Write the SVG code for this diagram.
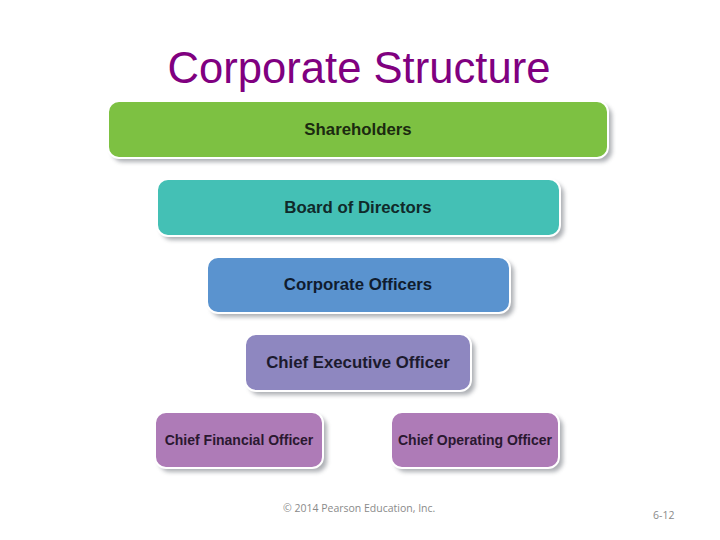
<svg xmlns="http://www.w3.org/2000/svg" width="720" height="540" viewBox="0 0 720 540">
<style>
.box{stroke:#ffffff;stroke-width:2}
.shadow{fill:#6b6f78;opacity:0.55;filter:url(#blur)}
.lbl{font-family:"Liberation Sans",Arial,sans-serif;font-weight:bold;font-size:16.8px;text-anchor:middle;dominant-baseline:central}
.title{font-family:"Liberation Sans",Arial,sans-serif;font-size:43.6px;fill:#800080;text-anchor:middle}
.foot{font-family:"Open Sans","Liberation Sans",sans-serif;font-size:10.5px;fill:#8a8a8a}
</style>
<defs>
<filter id="blur" x="-10%" y="-30%" width="120%" height="160%"><feGaussianBlur stdDeviation="2"/></filter>
</defs>
<rect width="720" height="540" fill="#ffffff"/>
<text class="title" x="359" y="83">Corporate Structure</text>
<g id="shareholders">
<rect class="shadow" x="112" y="105" width="500" height="57" rx="11"/>
<rect class="box" x="108" y="101" width="500" height="57" rx="11" fill="#7dc142"/>
<text class="lbl" x="358" y="129" fill="#1b2a10">Shareholders</text>
</g>
<g id="board">
<rect class="shadow" x="161" y="183" width="403" height="57" rx="11"/>
<rect class="box" x="157" y="179" width="403" height="57" rx="11" fill="#44c0b5"/>
<text class="lbl" x="358" y="207" fill="#102a2a">Board of Directors</text>
</g>
<g id="corporate-officers">
<rect class="shadow" x="211" y="261" width="303" height="56" rx="11"/>
<rect class="box" x="207" y="257" width="303" height="56" rx="11" fill="#5a93cf"/>
<text class="lbl" x="358" y="284" fill="#101c2e">Corporate Officers</text>
</g>
<g id="ceo">
<rect class="shadow" x="249" y="338" width="226" height="57" rx="11"/>
<rect class="box" x="245" y="334" width="226" height="57" rx="11" fill="#8e87c0"/>
<text class="lbl" x="358" y="362" fill="#1c1a2e">Chief Executive Officer</text>
</g>
<g id="cfo">
<rect class="shadow" x="159" y="416" width="168" height="56" rx="11"/>
<rect class="box" x="155" y="412" width="168" height="56" rx="11" fill="#ae7bb7"/>
<text class="lbl" x="239" y="440" fill="#2a1830" style="font-size:14px">Chief Financial Officer</text>
</g>
<g id="coo">
<rect class="shadow" x="395" y="416" width="168" height="56" rx="11"/>
<rect class="box" x="391" y="412" width="168" height="56" rx="11" fill="#ae7bb7"/>
<text class="lbl" x="475" y="440" fill="#2a1830" style="font-size:14px">Chief Operating Officer</text>
</g>
<g id="connectors"></g>
<text class="foot" x="283" y="512">© 2014 Pearson Education, Inc.</text>
<text class="foot" x="653" y="519">6-12</text>
</svg>
